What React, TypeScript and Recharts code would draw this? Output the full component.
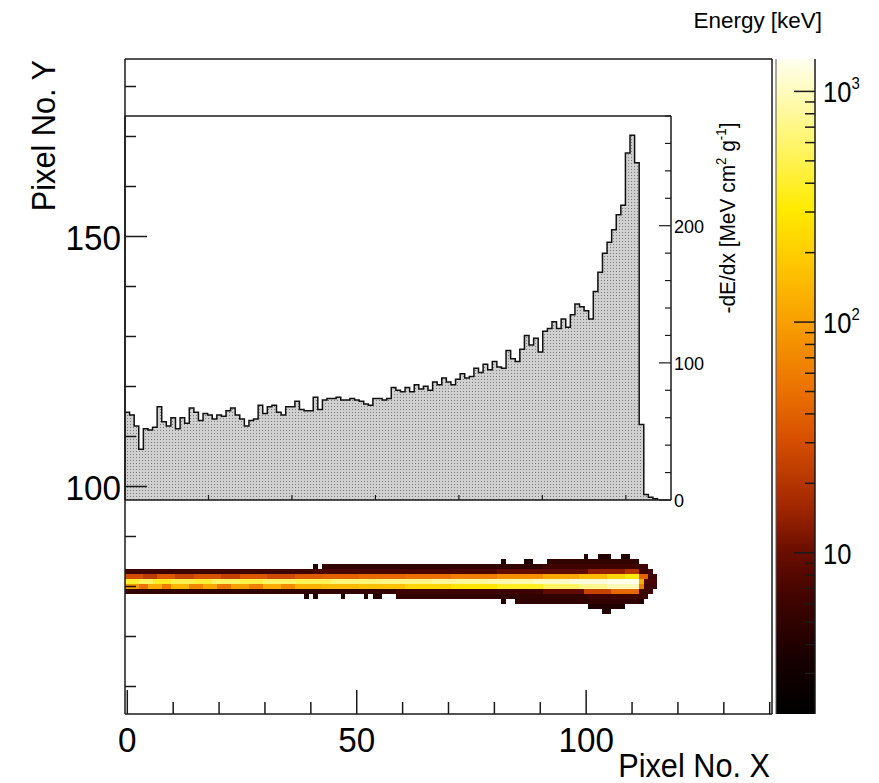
import React from 'react';
import { ComposedChart, XAxis, YAxis, Area, Bar, ReferenceArea, ReferenceLine, Label } from 'recharts';

const FONT = '"Liberation Sans", Arial, Helvetica, sans-serif';
const INK = '#1a1a1a';
const W = 879;
const H = 783;

// ---------- main 2D histogram axes ----------
const xDomain: [number, number] = [-0.5, 140.5];
const yDomain: [number, number] = [54.5, 185.5];
const xTicks = [0, 10, 20, 30, 40, 50, 60, 70, 80, 90, 100, 110, 120, 130, 140];
const xLabelTicks = [0, 50, 100];
const yTicks = [60, 70, 80, 90, 100, 110, 120, 130, 140, 150, 160, 170, 180];
const yLabelTicks = [100, 150];

// ---------- inset dE/dx histogram ----------
const binWidthMm = 0.055;
const insetXMaxMm = 6.541;
const insetXTicks = [1, 2, 3, 4, 5, 6];
const insetYTicks = [0, 20, 40, 60, 80, 100, 120, 140, 160, 180, 200, 220, 240, 260, 280];
const insetYLabelTicks = [0, 100, 200];
const dEdx = [
  64, 62, 54, 37, 52, 51, 53, 68, 57, 54, 60, 52, 60, 56, 67, 64, 58, 63, 62, 59,
  62, 61, 65, 67, 62, 59, 54, 58, 59, 69, 63, 68, 69, 64, 62, 68, 68, 72, 66, 65,
  65, 75, 66, 73, 74, 74, 75, 73, 73, 74, 73, 72, 70, 69, 74, 74, 73, 74, 82, 80,
  79, 82, 79, 84, 81, 83, 80, 86, 84, 89, 86, 84, 88, 92, 89, 90, 96, 93, 99, 95,
  101, 97, 96, 109, 103, 101, 110, 120, 113, 118, 108, 123, 125, 130, 125, 132, 126, 135, 143, 141,
  138, 132, 152, 166, 180, 188, 197, 208, 215, 253, 266, 246, 55, 4, 2, 1,
];

// ---------- colour scale ----------
const zMin = 2;
const zMax = 1382;
const colorbarTicks = [3, 4, 5, 6, 7, 8, 9, 10, 20, 30, 40, 50, 60, 70, 80, 90, 100, 200, 300, 400, 500, 600, 700, 800, 900, 1000];
const colorbarLabelTicks = [10, 100, 1000];
const paletteStops: [number, string][] = [
  [0, '#000000'],
  [0.08, '#160000'],
  [0.18, '#420400'],
  [0.25, '#6c0e00'],
  [0.32, '#a42800'],
  [0.42, '#d65000'],
  [0.5, '#ec7400'],
  [0.6, '#f8a000'],
  [0.7, '#ffcc00'],
  [0.77, '#ffea00'],
  [0.86, '#fff460'],
  [0.93, '#fff9a8'],
  [1, '#fffff0'],
];

// ---------- track (2D energy map), runs of [fromCol, toCol, energy keV] ----------
type Run = [number, number, number];
const row75: Run[] = [[104, 105, 4]];
const row76: Run[] = [[101, 108, 4]];
const row77: Run[] = [[82, 82, 4], [85, 111, 5], [112, 112, 4]];
const row78: Run[] = [[39, 39, 4], [41, 41, 4], [47, 47, 4], [52, 52, 4], [54, 55, 4], [59, 100, 5], [101, 113, 6]];
const row79: Run[] = [[0, 58, 5], [59, 90, 6], [91, 99, 9], [100, 105, 25], [106, 111, 45], [112, 114, 6]];
const row80: Run[] = [
  [0, 2, 90], [3, 4, 50], [5, 7, 120], [8, 9, 60], [10, 13, 140], [14, 16, 70], [17, 19, 110], [20, 22, 55],
  [23, 26, 100], [27, 29, 65], [30, 33, 120], [34, 36, 75], [37, 42, 130], [43, 50, 150], [51, 60, 170],
  [61, 70, 220], [71, 80, 280], [81, 90, 380], [91, 98, 550], [99, 104, 750], [105, 111, 950], [112, 112, 60], [113, 115, 6],
];
const row81: Run[] = [
  [0, 2, 420], [3, 5, 550], [6, 9, 380], [10, 14, 500], [15, 18, 430], [19, 24, 560], [25, 29, 470], [30, 36, 580],
  [37, 44, 520], [45, 55, 650], [56, 66, 700], [67, 78, 800], [79, 88, 900], [89, 96, 1050], [97, 104, 1200],
  [105, 111, 1350], [112, 112, 120], [113, 115, 7],
];
const row82: Run[] = [
  [0, 3, 30], [4, 6, 22], [7, 10, 35], [11, 14, 25], [15, 20, 32], [21, 24, 24], [25, 30, 34], [31, 36, 28],
  [37, 42, 36], [43, 50, 40], [51, 60, 45], [61, 70, 50], [71, 80, 60], [81, 90, 80], [91, 98, 110],
  [99, 104, 150], [105, 108, 220], [109, 111, 320], [112, 113, 40], [114, 115, 6],
];
const row83: Run[] = [[0, 40, 6], [41, 80, 7], [81, 100, 9], [101, 108, 14], [109, 111, 20], [112, 114, 6]];
const row84: Run[] = [[41, 41, 4], [43, 90, 5], [91, 113, 6]];
const row85: Run[] = [[82, 82, 4], [87, 88, 4], [92, 111, 5]];
const row86: Run[] = [[100, 100, 4], [103, 105, 4], [108, 109, 4]];
const trackRows: [number, Run[]][] = [
  [75, row75], [76, row76], [77, row77], [78, row78], [79, row79], [80, row80],
  [81, row81], [82, row82], [83, row83], [84, row84], [85, row85], [86, row86],
];

// ---------- helpers ----------
function hexToRgb(h: string): number[] {
  const n = parseInt(h.slice(1), 16);
  return [(n >> 16) & 255, (n >> 8) & 255, n & 255];
}
function paletteAt(f: number): string {
  const t = Math.max(0, Math.min(1, f));
  for (let i = 1; i < paletteStops.length; i++) {
    const [f1, c1] = paletteStops[i];
    const [f0, c0] = paletteStops[i - 1];
    if (t <= f1) {
      const u = (t - f0) / (f1 - f0);
      const a = hexToRgb(c0);
      const b = hexToRgb(c1);
      const m = a.map((v, k) => Math.round(v + (b[k] - v) * u));
      return `rgb(${m[0]},${m[1]},${m[2]})`;
    }
  }
  return paletteStops[paletteStops.length - 1][1];
}
function energyColor(e: number): string {
  return paletteAt(Math.log(e / zMin) / Math.log(zMax / zMin));
}

const histData = dEdx
  .map((v, i) => ({ x: i * binWidthMm, v }))
  .concat([{ x: dEdx.length * binWidthMm, v: 0 }]);

const cells = trackRows.flatMap(([row, runs]) =>
  runs.map(([a, b, e]) => ({ x1: a - 0.5, x2: b + 0.5, y1: row - 0.5, y2: row + 0.5, color: energyColor(e) }))
);

const colorbarData = [{ name: 'E', range: [zMin, zMax] }];

function T(props: any) {
  const { x, y, size, anchor = 'start', rotate = 0, sx = 0.87, children } = props;
  return (
    <text
      transform={`translate(${x},${y}) rotate(${rotate}) scale(${sx},1)`}
      x={0}
      y={0}
      fontSize={size}
      fontFamily={FONT}
      textAnchor={anchor}
      fill="#000"
    >
      {children}
    </text>
  );
}

const MainXTick = (p: any) => {
  const v = p.payload.value;
  const major = xLabelTicks.includes(v);
  return (
    <g>
      <line x1={p.x} x2={p.x} y1={p.y} y2={p.y - (major ? 24 : 12)} stroke={INK} strokeWidth={1.5} />
      {major && (
        <T x={p.x} y={p.y + 38} size={35} sx={0.95} anchor="middle">
          {v}
        </T>
      )}
    </g>
  );
};

const MainYTick = (p: any) => {
  const v = p.payload.value;
  const major = yLabelTicks.includes(v);
  return (
    <g>
      <line x1={p.x} x2={p.x + (major ? 22 : 11)} y1={p.y} y2={p.y} stroke={INK} strokeWidth={1.5} />
      {major && (
        <T x={p.x - 4} y={p.y + 13} size={35} sx={0.95} anchor="end">
          {v}
        </T>
      )}
    </g>
  );
};

const InsetXTick = (p: any) => (
  <line x1={p.x} x2={p.x} y1={p.y} y2={p.y - 5} stroke={INK} strokeWidth={1.2} />
);

const InsetYTick = (p: any) => {
  const v = p.payload.value;
  const major = insetYLabelTicks.includes(v);
  return (
    <g>
      <line x1={p.x} x2={p.x - (major ? 12 : 6)} y1={p.y} y2={p.y} stroke={INK} strokeWidth={1.2} />
      {major && (
        <T x={p.x + 3} y={p.y + 7} size={19} sx={0.95}>
          {v}
        </T>
      )}
    </g>
  );
};

const ColorbarTick = (p: any) => {
  const v = p.payload.value;
  const major = colorbarLabelTicks.includes(v);
  const exp = Math.round(Math.log10(v));
  return (
    <g>
      <line x1={p.x} x2={p.x - (major ? 21 : 10)} y1={p.y} y2={p.y} stroke={INK} strokeWidth={1.5} />
      {major && (
        <T x={p.x + 8} y={p.y + 11} size={29} sx={0.88}>
          10
          {exp > 1 && (
            <tspan fontSize={17} dy={-13}>
              {exp}
            </tspan>
          )}
        </T>
      )}
    </g>
  );
};

const ColorbarShape = (p: any) => (
  <g>
    <rect x={p.x} y={p.y} width={p.width} height={p.height} fill="url(#cbGrad)" />
    <line x1={p.x} x2={p.x} y1={p.y} y2={p.y + p.height} stroke="#555" strokeWidth={1} />
  </g>
);

const layer: React.CSSProperties = { position: 'absolute', left: 0, top: 0, width: W, height: H };

export default function App() {
  return (
    <div style={{ position: 'absolute', left: 0, top: 0, width: W, height: H, overflow: 'hidden', background: '#fff' }}>
      <svg width={0} height={0} style={{ position: 'absolute' }}>
        <defs>
          <pattern id="histDots" width="3" height="3" patternUnits="userSpaceOnUse">
            <rect width="3" height="3" fill="#d0d0d0" />
            <rect x="1" y="1" width="1" height="1" fill="#7a7a7a" />
          </pattern>
          <linearGradient id="cbGrad" x1="0" y1="1" x2="0" y2="0">
            {paletteStops.map(([f, c]) => (
              <stop key={f} offset={f} stopColor={c} />
            ))}
          </linearGradient>
        </defs>
      </svg>

      {/* inset dE/dx histogram */}
      <div style={layer}>
        <ComposedChart width={W} height={H} data={histData} margin={{ top: 116, left: 125, right: 148, bottom: 273 }}>
          <XAxis
            type="number"
            dataKey="x"
            domain={[0, insetXMaxMm]}
            allowDataOverflow
            ticks={insetXTicks}
            interval={0}
            height={10}
            tickSize={0}
            tickMargin={0}
            tickLine={false}
            axisLine={{ stroke: INK, strokeWidth: 1.5 }}
            tick={InsetXTick}
          />
          <YAxis
            orientation="right"
            type="number"
            domain={[0, 280]}
            allowDataOverflow
            ticks={insetYTicks}
            interval={0}
            width={60}
            tickSize={0}
            tickMargin={0}
            tickLine={false}
            axisLine={{ stroke: INK, strokeWidth: 1.5 }}
            tick={InsetYTick}
          >
            <Label
              content={() => (
                <T x={735} y={218} size={22} sx={0.95} rotate={-90} anchor="middle">
                  -dE/dx [MeV cm
                  <tspan fontSize={14} dy={-9}>2</tspan>
                  <tspan dy={9}> g</tspan>
                  <tspan fontSize={14} dy={-9}>-1</tspan>
                  <tspan dy={9}>]</tspan>
                </T>
              )}
            />
          </YAxis>
          <ReferenceLine y={280} stroke={INK} strokeWidth={1.5} ifOverflow="visible" />
          <ReferenceLine x={0} stroke={INK} strokeWidth={1.5} ifOverflow="visible" />
          <Area
            type="stepAfter"
            dataKey="v"
            stroke="#111"
            strokeWidth={1.5}
            fill="url(#histDots)"
            fillOpacity={1}
            dot={false}
            activeDot={false}
            isAnimationActive={false}
          />
        </ComposedChart>
      </div>

      {/* main 2D energy map */}
      <div style={layer}>
        <ComposedChart width={W} height={H} margin={{ top: 59, left: 65, right: 107, bottom: 39 }}>
          <XAxis
            type="number"
            dataKey="x"
            domain={xDomain}
            allowDataOverflow
            ticks={xTicks}
            interval={0}
            height={30}
            tickSize={0}
            tickMargin={0}
            tickLine={false}
            axisLine={{ stroke: INK, strokeWidth: 1.5 }}
            tick={MainXTick}
          >
            <Label
              content={() => (
                <T x={770} y={777} size={33} sx={0.93} anchor="end">
                  Pixel No. X
                </T>
              )}
            />
          </XAxis>
          <YAxis
            type="number"
            dataKey="y"
            domain={yDomain}
            allowDataOverflow
            ticks={yTicks}
            interval={0}
            width={60}
            tickSize={0}
            tickMargin={0}
            tickLine={false}
            axisLine={{ stroke: INK, strokeWidth: 1.5 }}
            tick={MainYTick}
          >
            <Label
              content={() => (
                <T x={55} y={60} size={33} sx={0.93} rotate={-90} anchor="end">
                  Pixel No. Y
                </T>
              )}
            />
          </YAxis>
          {cells.map((c, i) => (
            <ReferenceArea
              key={i}
              x1={c.x1}
              x2={c.x2}
              y1={c.y1}
              y2={c.y2}
              ifOverflow="visible"
              shape={(p: any) => (
                <rect
                  x={Math.min(p.x, p.x + p.width)}
                  y={Math.min(p.y, p.y + p.height)}
                  width={Math.abs(p.width)}
                  height={Math.abs(p.height)}
                  fill={c.color}
                  shapeRendering="crispEdges"
                />
              )}
            />
          ))}
          <ReferenceLine y={yDomain[1]} stroke={INK} strokeWidth={1.5} ifOverflow="visible" />
          <ReferenceLine x={xDomain[1]} stroke={INK} strokeWidth={1.5} ifOverflow="visible" />
        </ComposedChart>
      </div>

      {/* colour bar */}
      <div style={layer}>
        <ComposedChart width={W} height={H} data={colorbarData} margin={{ top: 59, left: 776, right: 4, bottom: 69 }} barCategoryGap={0}>
          <XAxis dataKey="name" type="category" hide />
          <YAxis
            orientation="right"
            type="number"
            scale="log"
            domain={[zMin, zMax]}
            allowDataOverflow
            ticks={colorbarTicks}
            interval={0}
            width={60}
            tickSize={0}
            tickMargin={0}
            tickLine={false}
            axisLine={{ stroke: INK, strokeWidth: 1.5 }}
            tick={ColorbarTick}
          >
            <Label
              content={() => (
                <T x={822} y={28} size={22} sx={1.02} anchor="end">
                  Energy [keV]
                </T>
              )}
            />
          </YAxis>
          <Bar dataKey="range" isAnimationActive={false} shape={ColorbarShape} />
        </ComposedChart>
      </div>
    </div>
  );
}
